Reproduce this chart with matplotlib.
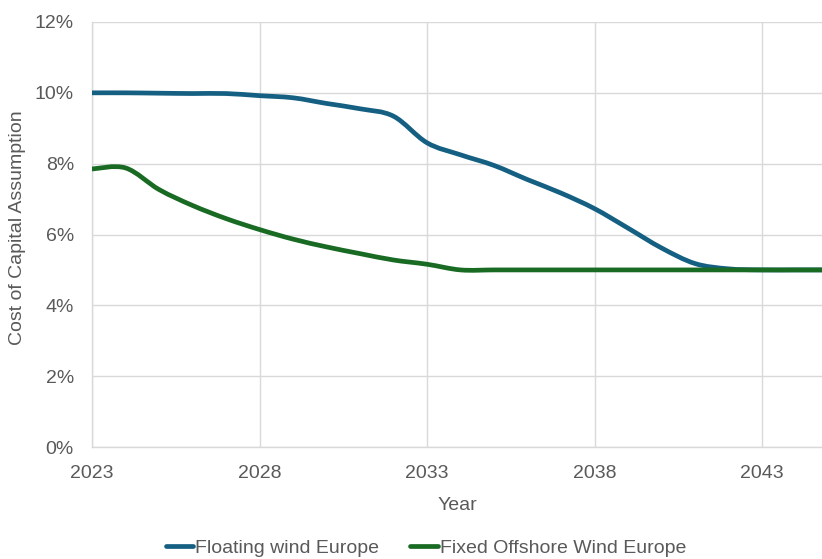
import numpy as np
import matplotlib
matplotlib.use("Agg")
import matplotlib.pyplot as plt
from matplotlib.path import Path
from matplotlib.patches import PathPatch
from matplotlib.lines import Line2D
from matplotlib.ticker import FuncFormatter

plt.rcParams["font.family"] = ["Liberation Sans", "DejaVu Sans"]

years = list(range(2023, 2046))
floating = [10.0, 10.0, 9.99, 9.98, 9.98, 9.92, 9.86, 9.70, 9.55, 9.34, 8.59, 8.25,
            7.95, 7.55, 7.17, 6.73, 6.18, 5.62, 5.18, 5.03, 5.0, 5.0, 5.0]
fixed = [7.85, 7.88, 7.27, 6.82, 6.45, 6.14, 5.87, 5.65, 5.46, 5.28, 5.16, 5.0,
         5.0, 5.0, 5.0, 5.0, 5.0, 5.0, 5.0, 5.0, 5.0, 5.0, 5.0]
series_names = ["Floating wind Europe", "Fixed Offshore Wind Europe"]
colors = ["#156082", "#196B24"]
x_ticks = [2023, 2028, 2033, 2038, 2043]
y_ticks = [0, 2, 4, 6, 8, 10, 12]

GRID = "#d9d9d9"
TXT = "#595959"
FS = 14


def smooth_path(x, y):
    # excel-style smoothed line: cubic bezier segments, catmull-rom tangents
    x = np.asarray(x, float)
    y = np.asarray(y, float)
    pts = np.column_stack([x, y])
    n = len(pts)
    verts = [pts[0]]
    codes = [Path.MOVETO]
    for i in range(n - 1):
        p0 = pts[max(i - 1, 0)]
        p1 = pts[i]
        p2 = pts[i + 1]
        p3 = pts[min(i + 2, n - 1)]
        c1 = p1 + (p2 - p0) / 6.0
        c2 = p2 - (p3 - p1) / 6.0
        verts += [c1, c2, p2]
        codes += [Path.CURVE4] * 3
    return Path(verts, codes)


fig = plt.figure(figsize=(8.22, 5.59), dpi=100)
ax = fig.add_axes([92 / 822, 1 - 447 / 559, 730 / 822, 425 / 559])

for vals, c in zip([floating, fixed], colors):
    patch = PathPatch(smooth_path(years, vals), facecolor="none", edgecolor=c,
                      lw=3.4, capstyle="round", joinstyle="round", zorder=3)
    ax.add_patch(patch)

ax.set_xlim(2023, 2023 + 730 / 33.5)
ax.set_ylim(0, 12)
ax.set_xticks(x_ticks)
ax.set_yticks(y_ticks)
ax.yaxis.set_major_formatter(FuncFormatter(lambda v, p: f"{v:.0f}%"))
ax.grid(True, color=GRID, lw=1.0, zorder=0)
ax.set_axisbelow(True)
ax.tick_params(length=0, labelsize=FS, labelcolor=TXT)
ax.tick_params(axis="x", pad=13)
ax.tick_params(axis="y", pad=13)
for s in ["top", "right"]:
    ax.spines[s].set_visible(False)
for s in ["left", "bottom"]:
    ax.spines[s].set_color(GRID)
    ax.spines[s].set_linewidth(1.0)

fig.text(457 / 822, 1 - 505 / 559, "Year", ha="center", va="center",
         fontsize=FS, color=TXT)
fig.text(18 / 822, 1 - 228 / 559, "Cost of Capital Assumption", ha="center",
         va="center", rotation=90, fontsize=FS, color=TXT)

handles = [Line2D([], [], color=c, lw=3.4, solid_capstyle="round") for c in colors]
fig.legend(handles, series_names, loc="center", bbox_to_anchor=(426 / 822, 1 - 548 / 559),
           ncol=2, frameon=False, fontsize=FS, labelcolor=TXT, handlelength=1.4,
           handletextpad=0.1, columnspacing=1.6)

fig.savefig("out.png", dpi=100)
